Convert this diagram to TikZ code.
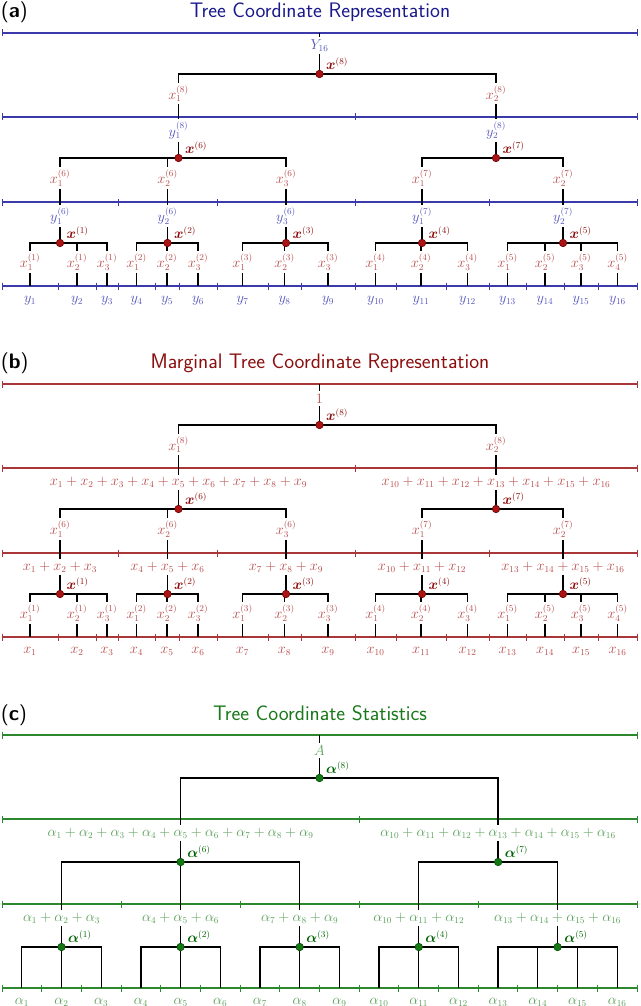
\documentclass[tikz,border=0pt]{standalone}
\usepackage{bm}
\definecolor{colTitA}{RGB}{25,25,140}
\definecolor{colLineA}{RGB}{58,58,170}
\definecolor{colLabA}{RGB}{85,85,190}
\definecolor{colLabR}{RGB}{185,75,75}
\definecolor{colBoldR}{RGB}{140,10,10}
\definecolor{colDotR}{RGB}{170,20,20}
\definecolor{colDotRd}{RGB}{110,0,0}
\definecolor{colTitB}{RGB}{140,15,15}
\definecolor{colLineB}{RGB}{170,55,55}
\definecolor{colTitC}{RGB}{25,120,25}
\definecolor{colLineC}{RGB}{45,135,45}
\definecolor{colLabC}{RGB}{90,160,90}
\definecolor{colBoldC}{RGB}{0,100,0}
\definecolor{colDotC}{RGB}{20,120,20}
\definecolor{colDotCd}{RGB}{0,80,0}
\tikzset{
  vl/.style={black, line width=1.3pt},
  barl/.style={black, line width=1.3pt, line cap=rect},
  lnA/.style={colLineA, line width=1.7pt},
  lnB/.style={colLineB, line width=1.7pt},
  lnC/.style={colLineC, line width=1.7pt},
  lab/.style={font=\fontsize{13.5}{16}\selectfont, inner sep=2.5pt},
  labA/.style={lab, text=colLabA},
  labR/.style={lab, text=colLabR},
  labC/.style={lab, text=colLabC},
  bR/.style={font=\fontsize{13.5}{16}\selectfont, inner sep=0pt, text=colBoldR, anchor=base west},
  bC/.style={font=\fontsize{13.5}{16}\selectfont, inner sep=0pt, text=colBoldC, anchor=base west},
  dotR/.style={circle, fill=colDotR, draw=colDotRd, line width=0.6pt, inner sep=0pt, minimum size=7.5pt},
  dotC/.style={circle, fill=colDotC, draw=colDotCd, line width=0.6pt, inner sep=0pt, minimum size=7.5pt},
  ttl/.style={font=\fontsize{21}{25}\selectfont\sffamily, anchor=base, inner sep=0pt},
  plab/.style={font=\fontsize{21}{25}\selectfont\sffamily, anchor=base west, inner sep=0pt, text=black},
}
\newcommand\HLn[3]{%
  \draw[#1] (2,#2) -- (637,#2);
  \foreach \t in {#3} {\draw[#1, line width=1pt] (\t,#2) ++(0,-3.5) -- ++(0,7);}%
}
\begin{document}
\begin{tikzpicture}[x=1pt,y=-1pt]
\clip (0,0) rectangle (640,1006);
\fill[white] (0,0) rectangle (640,1006);

%================ (a) ================
\begin{scope}
\node[ttl, text=colTitA] (tA) at (320,17.3) {Tree Coordinate Representation};
\node[plab] (pA) at (1,17.3) {(\textbf{a})};
\HLn{lnA}{33}{2,637}
\HLn{lnA}{117}{2,355,637}
\HLn{lnA}{202}{2,118,217,355,489,637}
\HLn{lnA}{286}{2,58,96,118,155,179,217,268,301,355,396,446,489,526,564,598,637}
% root
\coordinate (aR) at (319.5,33);
\coordinate (a8) at (319.5,74);
\node[labA] (aY) at (319.5,45.5) {$Y_{16}$};
\draw[vl] (aR) -- (aY.north) (aY.south) -- (a8);
\draw[barl] (178.5,74) -- (496,74);
% level 2
\foreach \x/\j/\k in {178.5/1/6, 496/2/7} {
  \coordinate (a\k) at (\x,158);
  \node[labR] (ax8\j) at (\x,93.5) {$x_{\j}^{(8)}$};
  \node[labA] (ay8\j) at (\x,130.5) {$y_{\j}^{(8)}$};
  \draw[vl] (\x,74) -- (ax8\j.north) (ax8\j.south) -- (ay8\j.north) (ay8\j.south) -- (a\k);
}
\draw[barl] (60,158) -- (286,158);
\draw[barl] (422,158) -- (563,158);
% level 3
\foreach \x/\k/\j/\p in {60/1/1/6, 167.5/2/2/6, 286/3/3/6, 422/4/1/7, 563/5/2/7} {
  \coordinate (a\k) at (\x,243);
  \node[labR] (ax\k) at (\x,178) {$x_{\j}^{(\p)}$};
  \node[labA] (ay\k) at (\x,216) {$y_{\j}^{(\p)}$};
  \draw[vl] (\x,158) -- (ax\k.north) (ax\k.south) -- (ay\k.north) (ay\k.south) -- (a\k);
}
\draw[barl] (30,243) -- (107,243);
\draw[barl] (136.5,243) -- (198,243);
\draw[barl] (242.5,243) -- (328,243);
\draw[barl] (375.5,243) -- (467.5,243);
\draw[barl] (507.5,243) -- (617.5,243);
% leaves
\foreach \x/\k/\j/\i in {30/1/1/1, 77/1/2/2, 107/1/3/3, 136.5/2/1/4, 167/2/2/5, 198/2/3/6, 242.5/3/1/7, 284.5/3/2/8, 328/3/3/9, 375.5/4/1/10, 421/4/2/11, 467.5/4/3/12, 507.5/5/1/13, 545/5/2/14, 581/5/3/15, 617.5/5/4/16} {
  \coordinate (aL\i) at (\x,286);
  \node[labR] (axl\i) at (\x,262) {$x_{\j}^{(\k)}$};
  \draw[vl] (\x,243) -- (axl\i.north) (axl\i.south) -- (aL\i);
  \node[labA] (ayl\i) at (\x,300.5) {$y_{\i}$};
}
\foreach \k in {1,...,8} {
  \node[dotR] (ad\k) at (a\k) {};
  \node[bR] (ab\k) at ([shift={(6.5,-4.5)}]a\k) {$\bm{x}^{(\k)}$};
}
\end{scope}

%================ (b) ================
\begin{scope}[yshift=-351pt]
\node[ttl, text=colTitB] (tB) at (320,17.3) {Marginal Tree Coordinate Representation};
\node[plab] (pB) at (1,17.3) {(\textbf{b})};
\HLn{lnB}{33}{2,637}
\HLn{lnB}{117}{2,355,637}
\HLn{lnB}{202}{2,118,217,355,489,637}
\HLn{lnB}{286}{2,58,96,118,155,179,217,268,301,355,396,446,489,526,564,598,637}
\coordinate (bR) at (319.5,33);
\coordinate (b8) at (319.5,74);
\node[labR] (bOne) at (319.5,47.5) {$1$};
\draw[vl] (bR) -- (bOne.north) (bOne.south) -- (b8);
\draw[barl] (178.5,74) -- (496,74);
\node[labR] (bs81) at (178.5,131.5) {$x_1+x_2+x_3+x_4+x_5+x_6+x_7+x_8+x_9$};
\node[labR] (bs82) at (496,131.5) {$x_{10}+x_{11}+x_{12}+x_{13}+x_{14}+x_{15}+x_{16}$};
\foreach \x/\j/\k in {178.5/1/6, 496/2/7} {
  \coordinate (b\k) at (\x,158);
  \node[labR] (bx8\j) at (\x,93.5) {$x_{\j}^{(8)}$};
  \draw[vl] (\x,74) -- (bx8\j.north) (bx8\j.south) -- (bs8\j.north) (bs8\j.south) -- (b\k);
}
\draw[barl] (60,158) -- (286,158);
\draw[barl] (422,158) -- (563,158);
\node[labR] (bs1) at (60,216) {$x_1+x_2+x_3$};
\node[labR] (bs2) at (167.5,216) {$x_4+x_5+x_6$};
\node[labR] (bs3) at (286,216) {$x_7+x_8+x_9$};
\node[labR] (bs4) at (422,216) {$x_{10}+x_{11}+x_{12}$};
\node[labR] (bs5) at (563,216) {$x_{13}+x_{14}+x_{15}+x_{16}$};
\foreach \x/\k/\j/\p in {60/1/1/6, 167.5/2/2/6, 286/3/3/6, 422/4/1/7, 563/5/2/7} {
  \coordinate (b\k) at (\x,243);
  \node[labR] (bx\k) at (\x,178) {$x_{\j}^{(\p)}$};
  \draw[vl] (\x,158) -- (bx\k.north) (bx\k.south) -- (bs\k.north) (bs\k.south) -- (b\k);
}
\draw[barl] (30,243) -- (107,243);
\draw[barl] (136.5,243) -- (198,243);
\draw[barl] (242.5,243) -- (328,243);
\draw[barl] (375.5,243) -- (467.5,243);
\draw[barl] (507.5,243) -- (617.5,243);
\foreach \x/\k/\j/\i in {30/1/1/1, 77/1/2/2, 107/1/3/3, 136.5/2/1/4, 167/2/2/5, 198/2/3/6, 242.5/3/1/7, 284.5/3/2/8, 328/3/3/9, 375.5/4/1/10, 421/4/2/11, 467.5/4/3/12, 507.5/5/1/13, 545/5/2/14, 581/5/3/15, 617.5/5/4/16} {
  \coordinate (bL\i) at (\x,286);
  \node[labR] (bxl\i) at (\x,262) {$x_{\j}^{(\k)}$};
  \draw[vl] (\x,243) -- (bxl\i.north) (bxl\i.south) -- (bL\i);
  \node[labR] (byl\i) at (\x,300.5) {$x_{\i}$};
}
\foreach \k in {1,...,8} {
  \node[dotR] (bd\k) at (b\k) {};
  \node[bR] (bb\k) at ([shift={(6.5,-4.5)}]b\k) {$\bm{x}^{(\k)}$};
}
\end{scope}

%================ (c) ================
\begin{scope}[yshift=-702pt]
\node[ttl, text=colTitC] (tC) at (320,18.5) {Tree Coordinate Statistics};
\node[plab] (pC) at (1,18.5) {(\textbf{c})};
\HLn{lnC}{33}{2,637}
\HLn{lnC}{117}{2,359.19,637}
\HLn{lnC}{202}{2,121.06,240.13,359.19,478.25,637}
\HLn{lnC}{286}{2,41.69,81.38,121.06,160.75,200.44,240.13,279.81,319.5,359.19,398.88,438.56,478.25,517.94,557.63,597.31,637}
\coordinate (cR) at (319.5,33);
\coordinate (c8) at (319.5,76);
\node[labC] (cA) at (319.5,48.5) {$A$};
\draw[vl] (cR) -- (cA.north) (cA.south) -- (c8);
\draw[barl] (180.59,76) -- (498.1,76);
\node[labC] (cs81) at (180.59,131) {$\alpha_1+\alpha_2+\alpha_3+\alpha_4+\alpha_5+\alpha_6+\alpha_7+\alpha_8+\alpha_9$};
\node[labC] (cs82) at (498.1,131) {$\alpha_{10}+\alpha_{11}+\alpha_{12}+\alpha_{13}+\alpha_{14}+\alpha_{15}+\alpha_{16}$};
\foreach \x/\j/\k in {180.59/1/6, 498.1/2/7} {
  \coordinate (c\k) at (\x,160);
  \draw[vl] (\x,76) -- (cs8\j.north) (cs8\j.south) -- (c\k);
}
\draw[barl] (61.53,160) -- (299.66,160);
\draw[barl] (418.72,160) -- (557.6,160);
\node[labC] (cs1) at (61.53,216) {$\alpha_1+\alpha_2+\alpha_3$};
\node[labC] (cs2) at (180.59,216) {$\alpha_4+\alpha_5+\alpha_6$};
\node[labC] (cs3) at (299.66,216) {$\alpha_7+\alpha_8+\alpha_9$};
\node[labC] (cs4) at (418.72,216) {$\alpha_{10}+\alpha_{11}+\alpha_{12}$};
\node[labC] (cs5) at (557.6,216) {$\alpha_{13}+\alpha_{14}+\alpha_{15}+\alpha_{16}$};
\foreach \x/\k in {61.53/1, 180.59/2, 299.66/3, 418.72/4, 557.6/5} {
  \coordinate (c\k) at (\x,245);
  \draw[vl] (\x,160) -- (cs\k.north) (cs\k.south) -- (c\k);
}
\draw[barl] (21.84,245) -- (101.22,245);
\draw[barl] (140.9,245) -- (220.3,245);
\draw[barl] (259.97,245) -- (339.34,245);
\draw[barl] (379.03,245) -- (458.4,245);
\draw[barl] (498.1,245) -- (617.16,245);
\foreach \x/\i in {21.84/1, 61.53/2, 101.22/3, 140.9/4, 180.59/5, 220.28/6, 259.97/7, 299.66/8, 339.34/9, 379.03/10, 418.72/11, 458.4/12, 498.1/13, 537.78/14, 577.47/15, 617.16/16} {
  \coordinate (cL\i) at (\x,286);
  \draw[vl] (\x,245) -- (cL\i);
  \node[labC] (cal\i) at (\x,300.5) {$\alpha_{\i}$};
}
\foreach \k in {1,...,8} {
  \node[dotC] (cd\k) at (c\k) {};
  \node[bC] (cb\k) at ([shift={(6.5,-4.5)}]c\k) {$\bm{\alpha}^{(\k)}$};
}
\end{scope}
\end{tikzpicture}
\end{document}
